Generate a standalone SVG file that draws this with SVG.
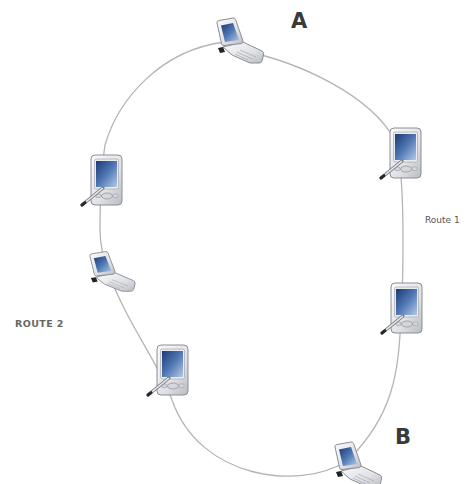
<svg xmlns="http://www.w3.org/2000/svg" width="469" height="484" viewBox="0 0 469 484">
  <style>
    .route { fill: none; stroke: #b4b4b4; stroke-width: 1.3; }
    .big { font-family: "DejaVu Sans", "Liberation Sans", sans-serif; font-weight: bold; font-size: 21px; fill: #3a3a3a; }
    .small { font-family: "DejaVu Sans", "Liberation Sans", sans-serif; font-size: 9px; fill: #555; }
    .cap { font-family: "DejaVu Sans", "Liberation Sans", sans-serif; font-size: 9.5px; font-weight: bold; fill: #666; letter-spacing: 0.4px; }
    .edge { stroke: #8b8e94; stroke-width: 1; stroke-linejoin: round; }
  </style>
  <defs>
    <linearGradient id="shell" x1="0" y1="0" x2="1" y2="1">
      <stop offset="0" stop-color="#fbfbfc"/>
      <stop offset="0.6" stop-color="#dfe1e5"/>
      <stop offset="1" stop-color="#b9bcc2"/>
    </linearGradient>
    <linearGradient id="screen" x1="0" y1="0" x2="1" y2="1">
      <stop offset="0" stop-color="#1d3a72"/>
      <stop offset="0.5" stop-color="#4f77b3"/>
      <stop offset="1" stop-color="#b3c9e6"/>
    </linearGradient>

    <!-- handheld with stylus, origin = top-left of the body -->
    <g id="pda">
      <path class="edge" d="M4,0 H27 Q31,0 31,4 V46 Q31,50 27,50 H4 Q0,50 0,46 V4 Q0,0 4,0 Z" fill="url(#shell)"/>
      <rect x="3.5" y="4" width="24" height="30" rx="1.5" fill="#e9ebee" stroke="#9a9da3" stroke-width="0.6"/>
      <rect x="5" y="6" width="21" height="26" fill="url(#screen)"/>
      <ellipse cx="16" cy="41" rx="5.5" ry="3" fill="#d4d6da" stroke="#8b8e94" stroke-width="0.7"/>
      <rect x="5" y="39" width="5" height="3.5" rx="1" fill="#d4d6da" stroke="#9a9da3" stroke-width="0.6"/>
      <rect x="22" y="39" width="5" height="3.5" rx="1" fill="#d4d6da" stroke="#9a9da3" stroke-width="0.6"/>
      <path d="M-9,50 L12,33" stroke="#777a80" stroke-width="3.2" stroke-linecap="round"/>
      <path d="M-8.5,49.6 L11.5,33.4" stroke="#e4e6ea" stroke-width="1.6" stroke-linecap="round"/>
      <path d="M-9,50 L-6,47.6" stroke="#2a2a2a" stroke-width="3" stroke-linecap="round"/>
    </g>

    <!-- clamshell phone, lid open -->
    <g id="flip">
      <path class="edge" d="M8,32 L28,27 L47,36 Q49,37 48.5,40 L47,46 Q46.5,48 44,48 L35,48 L17,40 Z" fill="url(#shell)"/>
      <path d="M22,37 L37,44 M25,35 L41,42 M20,39 L33,45" stroke="#a6a9ae" stroke-width="0.7"/>
      <path d="M3,33 L8,32 L10,37 L5,38 Z" fill="#222"/>
      <path class="edge" d="M2,8 Q1.5,6 4,5.5 L18,3 Q20,2.7 20.6,4.5 L28,26 Q28.5,28 26,28.6 L9,30.5 Q7,30.7 6.6,29 Z" fill="url(#shell)"/>
      <path d="M6,10.5 L18,8 L24,25 L10,27 Z" fill="url(#screen)"/>
    </g>
  </defs>

  <g id="connectors">
    <path class="route" d="M240,50 C300,62 370,95 395,140 C402,160 403,200 403,240 C403,280 402,310 400,335 C398,370 393,415 350,458 L345,462 C300,490 200,480 172,400 C162,372 140,340 125,310 C115,290 100,260 100,230 C100,200 101,172 105,145 C118,100 160,50 225,42 Z"/>
  </g>

  <g id="node-a">
    <use href="#flip" transform="translate(215,15)"/>
    <text class="big" x="291" y="28">A</text>
  </g>
  <g id="node-pda-r1">
    <use href="#pda" transform="translate(390,128)"/>
  </g>
  <g id="node-pda-r2">
    <use href="#pda" transform="translate(391,283)"/>
  </g>
  <g id="node-b">
    <use href="#flip" transform="translate(333,439)"/>
    <text class="big" x="395" y="444">B</text>
  </g>
  <g id="node-pda-l2">
    <use href="#pda" transform="translate(157,345)"/>
  </g>
  <g id="node-flip-l">
    <use href="#flip" transform="translate(88,249) scale(0.97,0.88)"/>
  </g>
  <g id="node-pda-l1">
    <use href="#pda" transform="translate(91,155)"/>
  </g>

  <text class="small" x="425" y="223">Route 1</text>
  <text class="cap" x="15" y="327">ROUTE 2</text>
</svg>
